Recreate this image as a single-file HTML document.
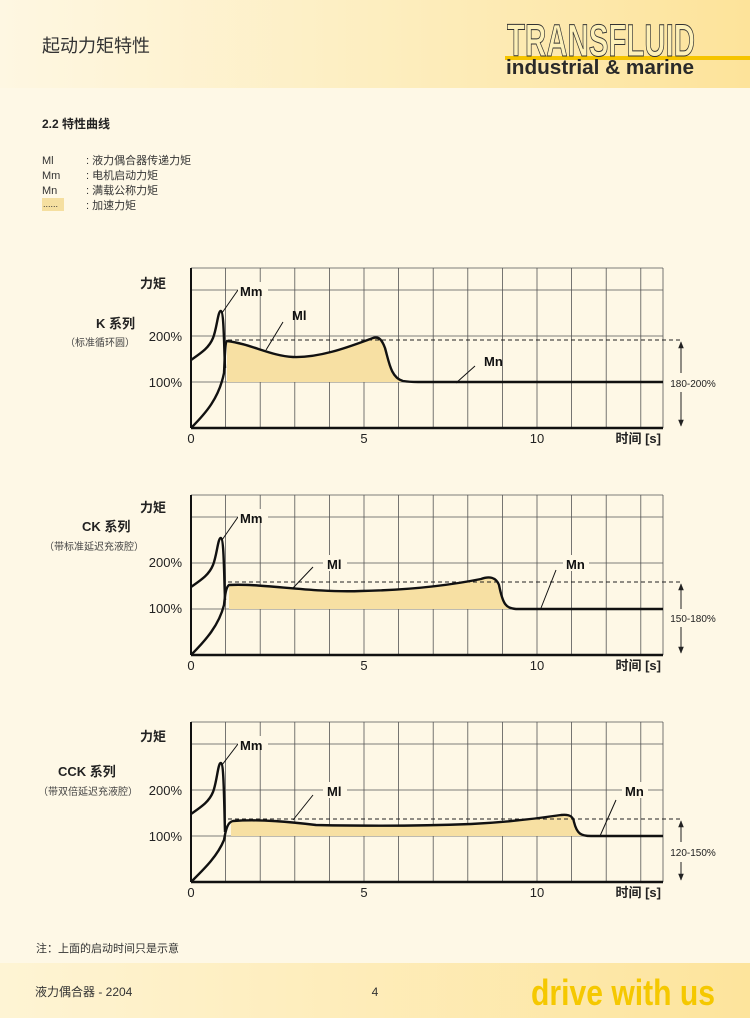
<!DOCTYPE html>
<html><head><meta charset="utf-8"><style>
html,body{margin:0;padding:0;background:#fef8e6;}
svg{display:block;font-family:"Liberation Sans","Noto Sans CJK SC",sans-serif;}
</style></head><body>
<svg width="750" height="1018" viewBox="0 0 750 1018" xmlns="http://www.w3.org/2000/svg">
<defs>
<linearGradient id="hd" x1="0" x2="1" y1="0" y2="0"><stop offset="0" stop-color="#fef7e2"/><stop offset="0.5" stop-color="#fdeec0"/><stop offset="1" stop-color="#fde39a"/></linearGradient>
<linearGradient id="ft" x1="0" x2="1" y1="0" y2="0"><stop offset="0" stop-color="#fef4d4"/><stop offset="1" stop-color="#fde49c"/></linearGradient>
<marker id="ah" viewBox="0 0 10 10" refX="9" refY="5" markerWidth="7" markerHeight="7" orient="auto-start-reverse"><path d="M0,1 L10,5 L0,9 Z" fill="#222"/></marker>
<g id="grid" stroke="#555" stroke-width="0.8" fill="none">
<path d="M34.6,0V-160M69.2,0V-160M103.8,0V-160M138.4,0V-160M173,0V-160M207.6,0V-160M242.2,0V-160M276.8,0V-160M311.4,0V-160M346,0V-160M380.6,0V-160M415.2,0V-160M449.8,0V-160M472,0V-160"/>
<path d="M0,-46H472M0,-92H472M0,-138H472M0,-160H472"/>
</g>
</defs>
<rect width="750" height="1018" fill="#fef8e6"/>
<rect width="750" height="88" fill="url(#hd)"/>
<text x="42" y="52" font-size="18" fill="#333">起动力矩特性</text>
<rect x="505" y="56" width="245" height="4" fill="#f5c400"/>
<text x="601" y="56" font-size="45" font-weight="bold" text-anchor="middle" fill="#fdf0b8" stroke="#333" stroke-width="1" font-family="Liberation Sans Narrow,Liberation Sans,sans-serif" textLength="188" lengthAdjust="spacingAndGlyphs">TRANSFLUID</text>
<text x="506" y="74" font-size="20" font-weight="bold" fill="#2a2a2a" font-family="Liberation Sans Narrow,Liberation Sans,sans-serif" textLength="188" lengthAdjust="spacingAndGlyphs">industrial &amp; marine</text>

<text x="42" y="128" font-size="12" font-weight="bold" fill="#222">2.2 特性曲线</text>
<g font-size="11" fill="#333">
<text x="42" y="164">Ml</text><text x="86" y="164">: 液力偶合器传递力矩</text>
<text x="42" y="179">Mm</text><text x="86" y="179">: 电机启动力矩</text>
<text x="42" y="194">Mn</text><text x="86" y="194">: 满载公称力矩</text>
<rect x="42" y="198" width="22" height="13" fill="#f5dfa0"/>
<text x="43" y="207" font-size="9">......</text>
<text x="86" y="209">: 加速力矩</text>
</g>

<!-- Chart 1 -->
<g font-size="13" fill="#222">
<text x="140" y="288" font-weight="bold">力矩</text>
<text x="182" y="341" text-anchor="end">200%</text>
<text x="182" y="387" text-anchor="end">100%</text>
<text x="96" y="328" font-weight="bold" font-size="13">K 系列</text>
<text x="65" y="346" font-size="10" fill="#444">（标准循环圆）</text>
<text x="191" y="443" text-anchor="middle">0</text><text x="364" y="443" text-anchor="middle">5</text><text x="537" y="443" text-anchor="middle">10</text>
<text x="661" y="443" text-anchor="end" font-weight="bold">时间 [s]</text>
</g>
<g transform="translate(191,428)">
<use href="#grid"/>
<path d="M36,-46 L36,-87 C60,-84 80,-72 102,-71 C130,-70 160,-82 182,-90 C188,-92 191,-88 194,-80 C198,-66 200,-50 212,-47 C218,-46 222,-46 227,-46 Z" fill="#f7e0a3"/>
<path d="M37,-88H490" stroke="#222" stroke-width="1" stroke-dasharray="4,3"/>
<path d="M490,-86V-55M490,-36V-2" stroke="#222" stroke-width="1" marker-start="url(#ah)" marker-end="url(#ah)"/>
<text x="502" y="-41" font-size="10" text-anchor="middle" fill="#222">180-200%</text>
<g fill="none" stroke="#111" stroke-width="2.4">
<path d="M0,-68 C10,-75 18,-80 22,-90 C26,-100 27,-118 30,-117 C33,-116 33,-80 34,-60"/>
<path d="M0,0 C15,-15 28,-30 33,-55 C34,-75 34,-86 36,-87 C60,-84 80,-72 102,-71 C130,-70 160,-82 182,-90 C188,-92 191,-88 194,-80 C198,-66 200,-50 212,-47 C218,-46 222,-46 227,-46 L472,-46"/>
</g>
<g stroke="#111" stroke-width="1"><path d="M31,-115L47,-138M75,-78L92,-106M265,-45L284,-62"/></g>
<rect x="47" y="-146" width="30" height="14" fill="#fef8e6"/>
<g font-size="13" font-weight="bold" fill="#111">
<text x="49" y="-132">Mm</text><text x="101" y="-108">Ml</text><text x="293" y="-62">Mn</text></g>
<path d="M0,0V-160" stroke="#111" stroke-width="2"/><path d="M0,0H472" stroke="#111" stroke-width="2.5"/>
</g>

<!-- Chart 2 -->
<g font-size="13" fill="#222">
<text x="140" y="512" font-weight="bold">力矩</text>
<text x="182" y="567" text-anchor="end">200%</text>
<text x="182" y="613" text-anchor="end">100%</text>
<text x="82" y="531" font-weight="bold">CK 系列</text>
<text x="44" y="550" font-size="10" fill="#444">（带标准延迟充液腔）</text>
<text x="191" y="670" text-anchor="middle">0</text><text x="364" y="670" text-anchor="middle">5</text><text x="537" y="670" text-anchor="middle">10</text>
<text x="661" y="670" text-anchor="end" font-weight="bold">时间 [s]</text>
</g>
<g transform="translate(191,655)">
<use href="#grid"/>
<path d="M38,-46 L38,-70 C70,-72 120,-62 170,-64 C220,-65 260,-70 290,-76 C298,-79 305,-78 308,-70 C312,-50 315,-47 325,-46 Z" fill="#f7e0a3"/>
<path d="M37,-73H490" stroke="#222" stroke-width="1" stroke-dasharray="4,3"/>
<path d="M490,-71V-46M490,-28V-2" stroke="#222" stroke-width="1" marker-start="url(#ah)" marker-end="url(#ah)"/>
<text x="502" y="-33" font-size="10" text-anchor="middle" fill="#222">150-180%</text>
<g fill="none" stroke="#111" stroke-width="2.4">
<path d="M0,-68 C10,-75 18,-80 22,-90 C26,-100 27,-118 30,-117 C33,-116 33,-80 34,-55"/>
<path d="M0,0 C15,-15 28,-30 33,-50 C34,-60 35,-68 38,-70 C70,-72 120,-62 170,-64 C220,-65 260,-70 290,-76 C298,-79 305,-78 308,-70 C312,-50 315,-47 325,-46 L472,-46"/>
</g>
<g stroke="#111" stroke-width="1"><path d="M31,-115L47,-138M102,-67L122,-88M350,-47L365,-85"/></g>
<rect x="47" y="-146" width="30" height="14" fill="#fef8e6"/>
<rect x="132" y="-100" width="24" height="16" fill="#fef8e6"/>
<rect x="372" y="-100" width="26" height="16" fill="#fef8e6"/>
<g font-size="13" font-weight="bold" fill="#111">
<text x="49" y="-132">Mm</text><text x="136" y="-86">Ml</text><text x="375" y="-86">Mn</text></g>
<path d="M0,0V-160" stroke="#111" stroke-width="2"/><path d="M0,0H472" stroke="#111" stroke-width="2.5"/>
</g>

<!-- Chart 3 -->
<g font-size="13" fill="#222">
<text x="140" y="741" font-weight="bold">力矩</text>
<text x="182" y="795" text-anchor="end">200%</text>
<text x="182" y="841" text-anchor="end">100%</text>
<text x="58" y="776" font-weight="bold">CCK 系列</text>
<text x="38" y="795" font-size="10" fill="#444">（带双倍延迟充液腔）</text>
<text x="191" y="897" text-anchor="middle">0</text><text x="364" y="897" text-anchor="middle">5</text><text x="537" y="897" text-anchor="middle">10</text>
<text x="661" y="897" text-anchor="end" font-weight="bold">时间 [s]</text>
</g>
<g transform="translate(191,882)">
<use href="#grid"/>
<path d="M40,-46 L40,-60 C42,-61 50,-62 55,-62 C80,-63 100,-60 125,-57 C170,-56 230,-56 280,-58 C320,-60 350,-64 370,-67 C378,-68 382,-66 383,-60 C386,-48 390,-46 400,-46 Z" fill="#f7e0a3"/>
<path d="M37,-63H490" stroke="#222" stroke-width="1" stroke-dasharray="4,3"/>
<path d="M490,-61V-40M490,-20V-2" stroke="#222" stroke-width="1" marker-start="url(#ah)" marker-end="url(#ah)"/>
<text x="502" y="-26" font-size="10" text-anchor="middle" fill="#222">120-150%</text>
<g fill="none" stroke="#111" stroke-width="2.4">
<path d="M0,-68 C10,-75 18,-80 22,-90 C26,-100 27,-120 30,-119 C33,-118 33,-80 34,-50"/>
<path d="M0,0 C12,-12 26,-25 33,-42 C35,-54 37,-60 42,-61 C70,-63 100,-60 125,-57 C170,-56 230,-56 280,-58 C320,-60 350,-64 370,-67 C378,-68 382,-66 383,-60 C386,-48 390,-46 400,-46 L472,-46"/>
</g>
<g stroke="#111" stroke-width="1"><path d="M31,-117L47,-138M102,-62L122,-87M409,-46L425,-82"/></g>
<rect x="47" y="-146" width="30" height="14" fill="#fef8e6"/>
<rect x="132" y="-100" width="24" height="16" fill="#fef8e6"/>
<rect x="431" y="-100" width="26" height="16" fill="#fef8e6"/>
<g font-size="13" font-weight="bold" fill="#111">
<text x="49" y="-132">Mm</text><text x="136" y="-86">Ml</text><text x="434" y="-86">Mn</text></g>
<path d="M0,0V-160" stroke="#111" stroke-width="2"/><path d="M0,0H472" stroke="#111" stroke-width="2.5"/>
</g>

<text x="36" y="952" font-size="11" fill="#333">注：上面的启动时间只是示意</text>
<rect y="963" width="750" height="55" fill="url(#ft)"/>
<text x="35" y="996" font-size="12" fill="#333">液力偶合器 - 2204</text>
<text x="375" y="996" font-size="12" fill="#333" text-anchor="middle">4</text>
<text x="531" y="1005" font-size="36" font-weight="bold" fill="#f5c800" font-family="Liberation Sans Narrow,Liberation Sans,sans-serif" textLength="184" lengthAdjust="spacingAndGlyphs">drive with us</text>
</svg>
</body></html>
